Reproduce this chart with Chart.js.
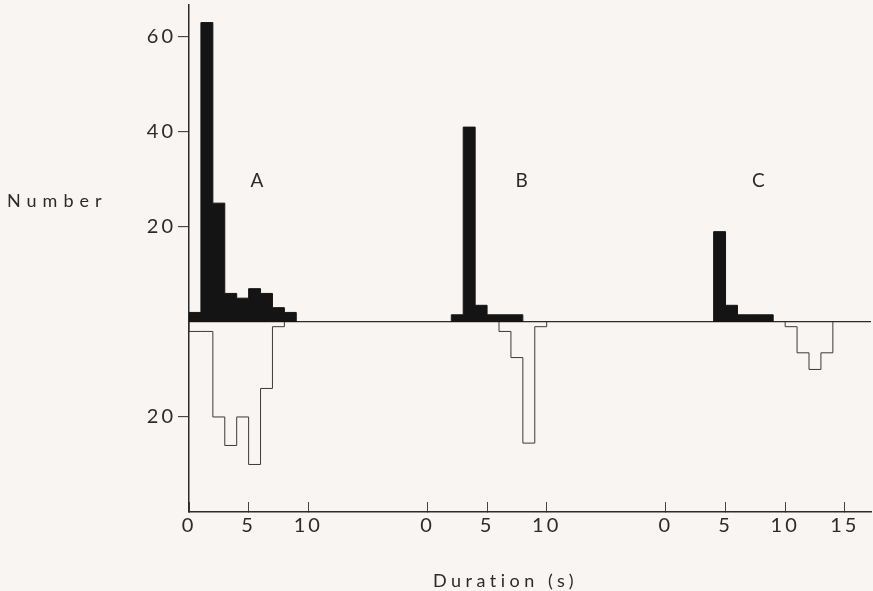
<!DOCTYPE html>
<html>
<head>
<meta charset="utf-8">
<title>Duration histograms A, B, C</title>
<script src="https://cdn.jsdelivr.net/npm/chart.js@4.4.1/dist/chart.umd.min.js"></script>
<style>
  html, body { margin: 0; padding: 0; background: #f8f5f2; overflow: hidden; }
  #wrap { width: 873px; height: 591px; position: relative; }
</style>
</head>
<body>
<div id="wrap"><canvas id="chart"></canvas></div>
<script>
// three groups share one duration axis, each one shifted along it
const groupNames = ['A', 'B', 'C'];
const groupTicks = [[0, 5, 10], [0, 5, 10], [0, 5, 10, 15]];

// filled bars above the line: first bin start (s), counts per 1 s bin
const upperStart = [0, 2, 4];
const upperA = [2, 63, 25, 6, 5, 7, 6, 3, 2];
const upperB = [1.5, 41, 3.5, 1.5, 1.5, 1.5];
const upperC = [19, 3.5, 1.5, 1.5, 1.5];

// open bars below the line
const lowerStart = [0, 6, 10];
const lowerA = [2, 2, 20, 26, 20, 30, 14, 1];
const lowerB = [2, 7.5, 25.5, 1];
const lowerC = [1, 6.5, 10, 6.5];

const yTicks = [-20, 0, 20, 40, 60];

// layout
const groupOffset = [0, 20, 40];
const nameAt = [5.7, 7.9, 7.75];
const ink = '#2b2b2b';

function steps(start, counts, offset, sign) {
    const pts = [{x: offset + start, y: 0}];
    counts.forEach((c, i) => pts.push({x: offset + start + i, y: sign * c}));
    pts.push({x: offset + start + counts.length, y: 0});
    return pts;
}

const xTickList = groupTicks.flatMap((t, g) =>
    t.map(v => ({value: groupOffset[g] + v, label: String(v)})));

const uppers = [upperA, upperB, upperC];
const lowers = [lowerA, lowerB, lowerC];
const datasets = [];
uppers.forEach((counts, g) => {
    datasets.push({
        data: steps(upperStart[g], counts, groupOffset[g], 1),
        stepped: 'before',
        fill: 'origin',
        backgroundColor: '#141414',
        borderColor: '#141414',
        borderWidth: 1,
        pointRadius: 0
    });
});
lowers.forEach((counts, g) => {
    datasets.push({
        data: steps(lowerStart[g], counts, groupOffset[g], -1),
        stepped: 'before',
        fill: false,
        borderColor: '#3a3a3a',
        borderWidth: 1,
        pointRadius: 0
    });
});

const textPlugin = {
    id: 'paperText',
    beforeDraw(chart) {
        chart.ctx.letterSpacing = '3px';
    },
    afterDraw(chart) {
        const {ctx, scales: {x, y}} = chart;
        ctx.save();
        ctx.fillStyle = ink;
        ctx.textBaseline = 'middle';
        ctx.letterSpacing = '0px';
        ctx.textAlign = 'center';
        ctx.font = '19px Lato';
        groupNames.forEach((name, g) => {
            ctx.fillText(name, x.getPixelForValue(groupOffset[g] + nameAt[g]), y.getPixelForValue(29.7));
        });
        ctx.textAlign = 'left';
        ctx.font = '18px Lato';
        ctx.letterSpacing = '6px';
        ctx.fillText('Number', 7, 201);
        ctx.letterSpacing = '4.5px';
        ctx.fillText('Duration (s)', 433, 581);
        ctx.restore();
    }
};

new Chart(document.getElementById('chart').getContext('2d'), {
    type: 'line',
    data: { datasets: datasets },
    plugins: [textPlugin],
    options: {
        responsive: true,
        maintainAspectRatio: false,
        animation: false,
        layout: { padding: { top: 5, right: 2, bottom: 0, left: 0 } },
        plugins: {
            legend: { display: false },
            tooltip: { enabled: false }
        },
        scales: {
            x: {
                type: 'linear',
                min: 0,
                max: 57.2,
                afterFit: (scale) => {
                    scale.height = 79;
                    scale.paddingLeft = 0;
                    scale.paddingRight = 0;
                },
                afterBuildTicks: (scale) => {
                    scale.ticks = xTickList.map(t => ({value: t.value}));
                },
                ticks: {
                    color: ink,
                    font: { family: 'Lato', size: 20 },
                    padding: 12,
                    maxRotation: 0,
                    autoSkip: false,
                    callback: (value, index) => xTickList[index] ? xTickList[index].label : ''
                },
                grid: {
                    drawOnChartArea: false,
                    tickLength: -10,
                    tickColor: '#444',
                    tickWidth: 1
                },
                border: { color: ink, width: 1.5 }
            },
            y: {
                type: 'linear',
                min: -40,
                max: 66.7,
                afterFit: (scale) => {
                    scale.width = 189;
                    scale.paddingTop = 0;
                    scale.paddingBottom = 0;
                },
                afterBuildTicks: (scale) => {
                    scale.ticks = yTicks.map(v => ({value: v}));
                },
                ticks: {
                    color: ink,
                    font: { family: 'Lato', size: 20 },
                    padding: 2,
                    callback: (value) => value === 0 ? '' : String(Math.abs(value))
                },
                grid: {
                    tickLength: 11,
                    color: (ctx) => ctx.tick && ctx.tick.value === 0 ? ink : 'rgba(0,0,0,0)',
                    lineWidth: 1.3,
                    tickColor: (ctx) => ctx.tick && ctx.tick.value === 0 ? 'rgba(0,0,0,0)' : ink,
                    tickWidth: 1
                },
                border: { color: ink, width: 1.5 }
            }
        }
    }
});
</script>
</body>
</html>
